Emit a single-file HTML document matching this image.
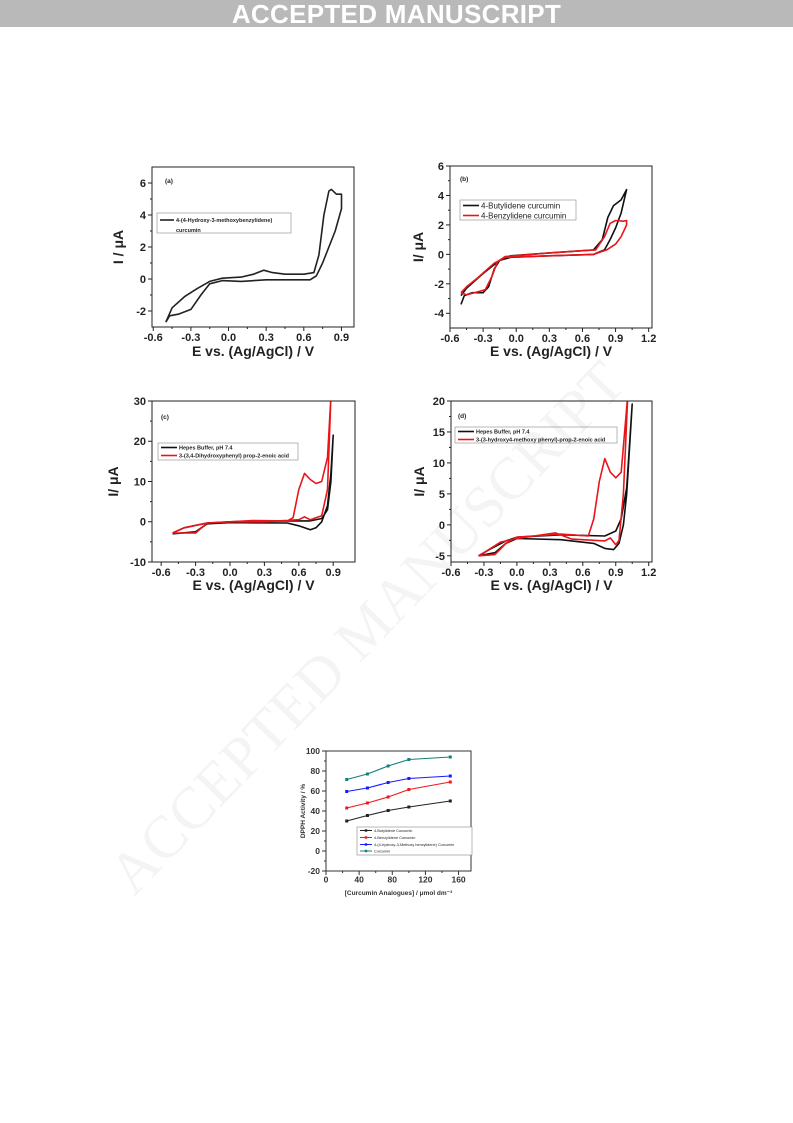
<!DOCTYPE html>
<html><head><meta charset="utf-8">
<style>
html,body{margin:0;padding:0;background:#fff;}
body{width:793px;height:1123px;position:relative;overflow:hidden;font-family:"Liberation Sans",Arial,sans-serif;}
#hdr{position:absolute;left:0;top:0;width:793px;height:27px;background:#b9b9b9;color:#fff;font-weight:bold;font-size:26px;text-align:center;line-height:28px;letter-spacing:0.3px;}
#wm{position:absolute;left:95px;top:860px;width:720px;font-family:"Liberation Serif",serif;font-size:60px;color:rgba(0,0,0,0.045);transform:rotate(-46deg);transform-origin:0 0;white-space:nowrap;}
svg{position:absolute;left:0;top:0;}
</style></head>
<body>
<div id="hdr">ACCEPTED MANUSCRIPT</div>
<svg id="fig" width="793" height="1123"></svg>
<div id="wm">ACCEPTED MANUSCRIPT</div>
<script>
// Panel (a)
const aE=[-0.5,-0.45,-0.35,-0.25,-0.15,-0.05,0.1,0.2,0.28,0.35,0.45,0.6,0.68,0.72,0.76,0.8,0.82,0.86,0.9,0.9,0.85,0.8,0.75,0.7,0.65,0.3,0.1,-0.05,-0.15,-0.22,-0.3,-0.4,-0.47,-0.5];
const aI=[-2.7,-1.8,-1.1,-0.6,-0.15,0.05,0.12,0.3,0.55,0.4,0.3,0.3,0.4,1.5,4,5.5,5.6,5.3,5.3,4.4,3,2,1,0.2,-0.05,-0.05,-0.15,-0.1,-0.3,-1.0,-1.9,-2.2,-2.3,-2.7];
// Panel (b)
const bBlackE=[-0.5,-0.47,-0.4,-0.3,-0.25,-0.2,-0.15,-0.05,0.3,0.6,0.7,0.78,0.83,0.88,0.95,1.0,0.95,0.9,0.85,0.8,0.7,0.3,-0.05,-0.15,-0.3,-0.45,-0.5];
const bBlackI=[-3.4,-2.8,-2.6,-2.6,-2.2,-1.0,-0.4,-0.1,0.1,0.25,0.3,1.0,2.5,3.3,3.7,4.4,2.8,1.8,1.0,0.3,0.0,-0.1,-0.2,-0.4,-1.3,-2.3,-2.8];
const bRedE=[-0.5,-0.45,-0.35,-0.28,-0.22,-0.17,-0.1,0.3,0.6,0.72,0.8,0.85,0.9,0.97,1.0,1.0,0.95,0.9,0.82,0.7,0.3,-0.1,-0.2,-0.35,-0.45,-0.5];
const bRedI=[-2.6,-2.75,-2.55,-2.4,-1.5,-0.5,-0.15,0.1,0.25,0.3,1.2,2.1,2.3,2.25,2.3,2.0,1.2,0.7,0.3,0.0,-0.1,-0.2,-0.6,-1.6,-2.2,-2.6];
// Panel (c)
const cBlackE=[-0.5,-0.3,-0.2,0,0.5,0.6,0.7,0.75,0.8,0.85,0.88,0.9,0.88,0.85,0.8,0.7,0.3,0,-0.2,-0.4,-0.5];
const cBlackI=[-3,-2.5,-0.5,-0.2,-0.3,-1.0,-2.0,-1.5,0,4,12,21.5,10,3,0.8,0.2,0.2,0,-0.3,-1.5,-2.8];
const cRedE=[-0.5,-0.3,-0.2,0.2,0.5,0.55,0.6,0.65,0.7,0.75,0.8,0.85,0.88,0.85,0.8,0.7,0.65,0.6,0.3,0,-0.2,-0.4,-0.5];
const cRedI=[-2.8,-2.8,-0.3,0.3,0.2,1,8,12,10.5,9.5,10,16,31,8,1.5,0.5,1.2,0.5,0,0,-0.3,-1.5,-2.8];
// Panel (d)
const dBlackE=[-0.35,-0.2,-0.1,0,0.4,0.7,0.8,0.88,0.93,0.97,1.0,1.05,1.0,0.95,0.9,0.8,0.4,0,-0.1,-0.25,-0.35];
const dBlackI=[-5,-4.5,-3,-2.2,-2.4,-3,-3.8,-4,-3,0,5,19.5,6,1,-1,-1.8,-1.6,-2.0,-2.6,-4,-5];
const dRedE=[-0.35,-0.2,-0.1,0,0.4,0.65,0.7,0.75,0.8,0.85,0.9,0.95,1.01,0.97,0.93,0.9,0.85,0.8,0.5,0.35,0,-0.15,-0.3,-0.35];
const dRedI=[-5,-4.8,-3,-2,-1.5,-1.8,1,7,10.7,8.5,7.6,8.5,21,5,-2.5,-3.2,-2.1,-2.6,-2.3,-1.3,-2.2,-2.8,-4.5,-5];
// DPPH chart
const conc=[25,50,75,100,150];
const butylidene=[30,35.5,40.5,44,50];
const benzylidene=[43,48,54,61.5,69];
const hydroxyMethoxy=[59.5,63,68.5,72.5,75];
const curcumin=[71.5,77,85,91.5,94];
const cvXTicks=[-0.6,-0.3,0.0,0.3,0.6,0.9,1.2];
const cvXTickLabels=["-0.6","-0.3","0.0","0.3","0.6","0.9","1.2"];
const dpphXTicks=[0,40,80,120,160];
const dpphYTicks=[-20,0,20,40,60,80,100];

const NS="http://www.w3.org/2000/svg";
const svg=document.getElementById('fig');
function mk(tag,attrs,parent){const e=document.createElementNS(NS,tag);for(const k in attrs)e.setAttribute(k,attrs[k]);(parent||svg).appendChild(e);return e;}
function txt(s,attrs,parent){const t=mk('text',attrs,parent);t.textContent=s;return t;}

function panel(cfg){
  const g=mk('g',{});
  
  
  const sx=v=>cfg.x0+(v-cfg.xmin)/(cfg.xmax-cfg.xmin)*(cfg.x1-cfg.x0);
  const sy=v=>cfg.y1-(v-cfg.ymin)/(cfg.ymax-cfg.ymin)*(cfg.y1-cfg.y0);
  const cp='clip-'+cfg.name;
  const defs=mk('defs',{},g);const c=mk('clipPath',{id:cp},defs);
  mk('rect',{x:cfg.x0,y:cfg.y0,width:cfg.x1-cfg.x0,height:cfg.y1-cfg.y0},c);
  const fs=cfg.fs||11, col=cfg.axisColor||'#222';
  cfg.xt.forEach((v,i)=>{
    const x=sx(v);
    mk('line',{x1:x,x2:x,y1:cfg.y1,y2:cfg.y1+4,stroke:col,'stroke-width':1},g);
    if(i<cfg.xt.length-1){const xm=sx(v+(cfg.xt[1]-cfg.xt[0])/2);mk('line',{x1:xm,x2:xm,y1:cfg.y1,y2:cfg.y1+2,stroke:col,'stroke-width':1},g);}
    const t=txt(cfg.xl[i],{x:x,y:cfg.y1+fs+3,'text-anchor':'middle','font-size':fs,'font-weight':'bold',fill:col},g);
    
  });
  cfg.yt.forEach((v,i)=>{
    const y=sy(v);
    mk('line',{x1:cfg.x0-4,x2:cfg.x0,y1:y,y2:y,stroke:col,'stroke-width':1},g);
    if(i<cfg.yt.length-1){const ym=sy(v+(cfg.yt[1]-cfg.yt[0])/2);mk('line',{x1:cfg.x0-2,x2:cfg.x0,y1:ym,y2:ym,stroke:col,'stroke-width':1},g);}
    const t=txt(String(v),{x:cfg.x0-6,y:y+fs*0.36,'text-anchor':'end','font-size':fs,'font-weight':'bold',fill:col},g);
    
  });
  const xt=txt(cfg.xtitle,{x:(cfg.x0+cfg.x1)/2,y:cfg.xty,'text-anchor':'middle','font-size':cfg.tfs||14,'font-weight':'bold',fill:col},g);
  
  const yt=txt(cfg.ytitle,{x:0,y:0,'text-anchor':'middle','font-size':cfg.tfs||14,'font-weight':'bold',fill:col,transform:`translate(${cfg.ytx},${(cfg.y0+cfg.y1)/2}) rotate(-90)`},g);
  
  const sg=mk('g',{'clip-path':`url(#${cp})`},g);
  cfg.series.forEach(s=>{
    const d=s.xs.map((v,i)=>(i?'L':'M')+sx(v).toFixed(1)+','+sy(s.ys[i]).toFixed(1)).join(' ');
    const p=mk('path',{d:d,fill:'none',stroke:s.color,'stroke-width':s.w||1.6,'stroke-linejoin':'round'},sg);
    
    if(s.marker){s.xs.forEach((v,i)=>{
      const m=mk('rect',{x:sx(v)-1.5,y:sy(s.ys[i])-1.5,width:3,height:3,fill:s.color},sg);
      
    });}
  });
  const fr=mk('rect',{x:cfg.x0,y:cfg.y0,width:cfg.x1-cfg.x0,height:cfg.y1-cfg.y0,fill:'none',stroke:col,'stroke-width':1},g);
  
  if(cfg.label){const l=txt(cfg.label,{x:cfg.lx,y:cfg.ly,'font-size':6.5,'font-weight':'bold',fill:'#222'},g);}
  if(cfg.legend){
    const L=cfg.legend;
    const lg=mk('g',{},g);
    
    mk('rect',{x:L.x,y:L.y,width:L.w,height:L.h,fill:'#fff',stroke:'#999','stroke-width':0.7},lg);
    L.items.forEach(it=>{
      if(it.color) mk('line',{x1:L.x+3,x2:L.x+3+L.ll,y1:it.y,y2:it.y,stroke:it.color,'stroke-width':L.lw||1.6},lg);
      if(it.marker) mk('rect',{x:L.x+3+L.ll/2-1.2,y:it.y-1.2,width:2.4,height:2.4,fill:it.color},lg);
      const t=txt(it.text,{x:L.x+5+L.ll,y:it.y+L.fs*0.35,'font-size':L.fs,'font-weight':L.bold?'bold':'normal',fill:it.tc||'#222'},lg);
      
    });
  }
}

panel({name:'panel-a',x0:152,x1:354,y0:167,y1:327,xmin:-0.61,xmax:1.0,ymin:-3,ymax:7,
  xt:cvXTicks.slice(0,6),xl:cvXTickLabels.slice(0,6),yt:[-2,0,2,4,6],
  xtitle:'E vs. (Ag/AgCl) / V',xty:356,ytitle:'I / μA',ytx:123,
  series:[{name:'cv-curve-a',xs:aE,ys:aI,color:'#222'}],
  label:'(a)',lx:165,ly:183,
  legend:{x:157,y:213,w:134,h:20,ll:14,fs:5.5,bold:true,items:[{color:'#222',text:'4-(4-Hydroxy-3-methoxybenzylidene)',y:220},{text:'curcumin',y:230}]}});

panel({name:'panel-b',x0:450,x1:652,y0:166,y1:328,xmin:-0.6,xmax:1.23,ymin:-5,ymax:6,
  xt:cvXTicks,xl:cvXTickLabels,yt:[-4,-2,0,2,4,6],
  xtitle:'E vs. (Ag/AgCl) / V',xty:356,ytitle:'I/ μA',ytx:423,
  series:[{name:'cv-butylidene',xs:bBlackE,ys:bBlackI,color:'#111'},{name:'cv-benzylidene',xs:bRedE,ys:bRedI,color:'#e8161b'}],
  label:'(b)',lx:460,ly:181,
  legend:{x:460,y:200,w:116,h:20,ll:16,fs:8,bold:false,items:[{color:'#111',text:'4-Butylidene curcumin',y:205.5},{color:'#e8161b',text:'4-Benzylidene curcumin',y:215.5}]}});

panel({name:'panel-c',x0:152,x1:355,y0:401,y1:562,xmin:-0.68,xmax:1.09,ymin:-10,ymax:30,
  xt:cvXTicks.slice(0,6),xl:cvXTickLabels.slice(0,6),yt:[-10,0,10,20,30],
  xtitle:'E vs. (Ag/AgCl) / V',xty:590,ytitle:'I/ μA',ytx:118,
  series:[{name:'cv-hepes-buffer-c',xs:cBlackE,ys:cBlackI,color:'#111'},{name:'cv-dihydroxyphenyl-acid',xs:cRedE,ys:cRedI,color:'#e8161b'}],
  label:'(c)',lx:161,ly:419,
  legend:{x:158,y:443,w:140,h:17,ll:16,fs:5.5,bold:true,items:[{color:'#111',text:'Hepes Buffer, pH 7.4',y:447.5},{color:'#e8161b',text:'3-(3,4-Dihydroxyphenyl) prop-2-enoic acid',y:455.5}]}});

panel({name:'panel-d',x0:451,x1:652,y0:401,y1:562,xmin:-0.6,xmax:1.23,ymin:-6,ymax:20,
  xt:cvXTicks,xl:cvXTickLabels,yt:[-5,0,5,10,15,20],
  xtitle:'E vs. (Ag/AgCl) / V',xty:590,ytitle:'I/ μA',ytx:424,
  series:[{name:'cv-hepes-buffer-d',xs:dBlackE,ys:dBlackI,color:'#111'},{name:'cv-methoxyphenyl-acid',xs:dRedE,ys:dRedI,color:'#e8161b'}],
  label:'(d)',lx:458,ly:418,
  legend:{x:455,y:427,w:162,h:16,ll:16,fs:5.5,bold:true,items:[{color:'#111',text:'Hepes Buffer, pH 7.4',y:431.5},{color:'#e8161b',text:'3-(3-hydroxy4-methoxy phenyl)-prop-2-enoic acid',y:439.5}]}});

panel({name:'panel-dpph',x0:326,x1:471,y0:751,y1:871,xmin:0,xmax:175,ymin:-20,ymax:100,
  xt:dpphXTicks,xl:dpphXTicks.map(String),yt:dpphYTicks,fs:8.5,tfs:6.5,axisColor:'#333',
  xtitle:'[Curcumin Analogues] / μmol dm⁻³',xty:895,ytitle:'DPPH Activity / %',ytx:305,
  series:[{name:'dpph-butylidene',xs:conc,ys:butylidene,color:'#222',w:1.1,marker:true},
          {name:'dpph-benzylidene',xs:conc,ys:benzylidene,color:'#f01818',w:1.1,marker:true},
          {name:'dpph-hydroxy-methoxy',xs:conc,ys:hydroxyMethoxy,color:'#1a1aff',w:1.1,marker:true},
          {name:'dpph-curcumin',xs:conc,ys:curcumin,color:'#138080',w:1.1,marker:true}],
  legend:{x:357,y:827,w:115,h:28,ll:12,fs:3.8,lw:1,bold:false,items:[
    {color:'#222',text:'4-Butylidene Curcumin',y:830.5,marker:true},
    {color:'#f01818',text:'4-Benzylidene Curcumin',y:837.5,marker:true},
    {color:'#1a1aff',text:'4-(4-hydroxy-3-Methoxy benzylidene) Curcumin',y:844.5,marker:true},
    {color:'#138080',text:'Curcumin',y:851,marker:true}]}});
</script>
</body></html>
